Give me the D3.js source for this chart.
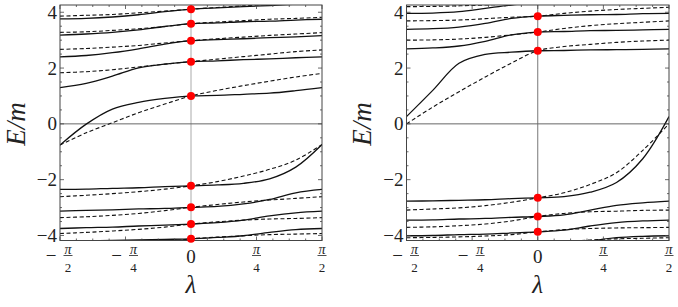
<!DOCTYPE html>
<html><head><meta charset="utf-8">
<script src="https://cdn.jsdelivr.net/npm/d3@7"></script>
<style>body{margin:0;background:#fff}svg{display:block}</style>
</head><body>
<script>
// lambda grid (in units of pi)
const lam = [-0.5,-0.4,-0.3,-0.2,-0.1,0,0.1,0.2,0.3,0.4,0.5];
const yTicks = [-4,-2,0,2,4];
const xTicks = [-0.5,-0.25,0,0.25,0.5];
const xTickDen = {"-0.5":"2","-0.25":"4","0.25":"4","0.5":"2"};

// left panel curves (E/m)
const leftSolid = [
  [-0.76,-0.01,0.53,0.77,0.91,1.00,1.02,1.06,1.10,1.19,1.30],
  [1.30,1.45,1.71,2.01,2.14,2.23,2.26,2.30,2.33,2.37,2.40],
  [2.40,2.45,2.55,2.69,2.86,2.98,3.02,3.05,3.09,3.12,3.16],
  [3.18,3.22,3.28,3.37,3.49,3.59,3.62,3.66,3.68,3.72,3.75],
  [3.76,3.78,3.83,3.91,4.02,4.11,4.16,4.20,4.24,4.29,4.33],
  [-2.35,-2.34,-2.31,-2.29,-2.25,-2.22,-2.19,-2.13,-1.97,-1.55,-0.74],
  [-3.13,-3.10,-3.08,-3.05,-3.03,-2.99,-2.96,-2.87,-2.71,-2.47,-2.35],
  [-3.75,-3.72,-3.70,-3.66,-3.63,-3.59,-3.54,-3.45,-3.30,-3.19,-3.13],
  [-4.20,-4.19,-4.18,-4.16,-4.14,-4.12,-4.07,-4.01,-3.89,-3.79,-3.75]
];
const leftDashed = [
  [-0.76,-0.32,0.04,0.40,0.71,1.00,1.20,1.37,1.53,1.68,1.81],
  [1.83,1.87,1.94,2.04,2.14,2.23,2.32,2.41,2.50,2.59,2.65],
  [2.67,2.70,2.75,2.81,2.90,2.98,3.05,3.11,3.17,3.22,3.27],
  [3.28,3.30,3.35,3.41,3.49,3.59,3.65,3.70,3.75,3.78,3.82],
  [3.86,3.89,3.92,3.98,4.04,4.11,4.17,4.23,4.28,4.33,4.38],
  [-2.61,-2.56,-2.50,-2.43,-2.34,-2.22,-2.07,-1.87,-1.63,-1.30,-0.74],
  [-3.36,-3.33,-3.28,-3.21,-3.11,-2.99,-2.89,-2.80,-2.73,-2.67,-2.61],
  [-3.93,-3.89,-3.84,-3.78,-3.70,-3.59,-3.51,-3.45,-3.41,-3.39,-3.36],
  [-4.50,-4.45,-4.40,-4.33,-4.24,-4.12,-4.06,-4.01,-3.97,-3.95,-3.93]
];
const leftDots = [4.11,3.59,2.98,2.23,1.00,-2.22,-2.99,-3.59,-4.12];

// right panel curves (E/m)
const rightSolid = [
  [0.26,1.20,2.17,2.49,2.57,2.62,2.63,2.65,2.66,2.67,2.69],
  [2.69,2.72,2.79,2.96,3.19,3.29,3.31,3.34,3.35,3.37,3.39],
  [3.39,3.41,3.47,3.60,3.78,3.86,3.89,3.91,3.92,3.95,3.96],
  [3.96,3.97,4.02,4.14,4.26,4.36,4.42,4.46,4.48,4.50,4.52],
  [-2.77,-2.76,-2.74,-2.72,-2.68,-2.65,-2.61,-2.45,-2.10,-1.25,0.26],
  [-3.45,-3.44,-3.41,-3.39,-3.35,-3.32,-3.26,-3.09,-2.92,-2.83,-2.77],
  [-4.01,-4.00,-3.97,-3.95,-3.91,-3.87,-3.81,-3.66,-3.54,-3.48,-3.45],
  [-4.60,-4.58,-4.56,-4.52,-4.49,-4.45,-4.38,-4.20,-4.08,-4.03,-4.01]
];
const rightDashed = [
  [0.00,0.60,1.15,1.68,2.18,2.62,2.77,2.85,2.92,2.97,3.00],
  [3.00,3.01,3.04,3.10,3.19,3.29,3.42,3.52,3.59,3.64,3.69],
  [3.69,3.70,3.72,3.77,3.82,3.86,3.96,4.04,4.10,4.14,4.18],
  [4.20,4.21,4.23,4.26,4.30,4.35,4.42,4.48,4.52,4.55,4.58],
  [-3.09,-3.05,-3.01,-2.93,-2.81,-2.65,-2.47,-2.17,-1.75,-0.95,0.00],
  [-3.71,-3.69,-3.65,-3.59,-3.48,-3.32,-3.21,-3.15,-3.13,-3.10,-3.09],
  [-4.08,-4.07,-4.05,-4.02,-3.97,-3.87,-3.79,-3.75,-3.73,-3.72,-3.71],
  [-4.70,-4.65,-4.60,-4.52,-4.42,-4.30,-4.22,-4.16,-4.12,-4.10,-4.08]
];
const rightDots = [3.86,3.29,2.62,-2.65,-3.32,-3.87];

const W = 678, H = 307;
const svg = d3.select("body").append("svg").attr("width",W).attr("height",H);
const y = d3.scaleLinear().domain([-4.18,4.26]).range([240.5,5]);
const serif = "'Liberation Serif','DejaVu Serif',serif";

function panel(id, x0, x1, solids, dashes, dots, labelX) {
  const x = d3.scaleLinear().domain([-0.5,0.5]).range([x0,x1]);
  const g = svg.append("g");
  g.append("clipPath").attr("id","clip"+id).append("rect")
    .attr("x",x0).attr("y",y.range()[1]).attr("width",x1-x0).attr("height",y.range()[0]-y.range()[1]);
  // zero lines
  g.append("line").attr("x1",x(0)).attr("x2",x(0)).attr("y1",y.range()[1]).attr("y2",y.range()[0])
    .attr("stroke", id===0 ? "#aaa" : "#777").attr("stroke-width",1);
  g.append("line").attr("x1",x0).attr("x2",x1).attr("y1",y(0)).attr("y2",y(0))
    .attr("stroke","#666").attr("stroke-width",1);
  const line = d3.line().x((d,i)=>x(lam[i])).y(d=>y(d)).curve(d3.curveCatmullRom.alpha(0.5));
  const cg = g.append("g").attr("clip-path","url(#clip"+id+")");
  cg.selectAll(".dash").data(dashes).join("path").attr("d",line)
    .attr("fill","none").attr("stroke","#111").attr("stroke-width",1.1).attr("stroke-dasharray","4,2.5");
  cg.selectAll(".sol").data(solids).join("path").attr("d",line)
    .attr("fill","none").attr("stroke","#111").attr("stroke-width",1.3);
  // frame
  g.append("rect").attr("x",x0).attr("y",y.range()[1]).attr("width",x1-x0).attr("height",y.range()[0]-y.range()[1])
    .attr("fill","none").attr("stroke","#444").attr("stroke-width",1);
  // ticks
  const top = y.range()[1], bot = y.range()[0];
  const tk = g.append("g").attr("stroke","#444").attr("stroke-width",0.8);
  d3.range(-4,4.01,0.5).forEach(v=>{
    const L = (Math.abs(v%2)<1e-9)?4:2;
    tk.append("line").attr("x1",x0).attr("x2",x0+L).attr("y1",y(v)).attr("y2",y(v));
    tk.append("line").attr("x1",x1).attr("x2",x1-L).attr("y1",y(v)).attr("y2",y(v));
  });
  d3.range(-0.5,0.501,0.0625).forEach(v=>{
    const L = (Math.abs((v*4)%1)<1e-9)?4:2;
    tk.append("line").attr("x1",x(v)).attr("x2",x(v)).attr("y1",bot).attr("y2",bot-L);
    tk.append("line").attr("x1",x(v)).attr("x2",x(v)).attr("y1",top).attr("y2",top+L);
  });
  // y tick labels
  g.selectAll(".yl").data(yTicks).join("text")
    .attr("x",x0-3).attr("y",d=>y(d)+6.5).attr("text-anchor","end")
    .attr("font-family",serif).attr("font-size",19).attr("fill","#222")
    .text(d=>d<0 ? "\u2212"+Math.abs(d) : d);
  // x tick labels
  xTicks.forEach(v=>{
    const cx = x(v);
    if (v===0) {
      g.append("text").attr("x",cx).attr("y",263).attr("text-anchor","middle")
        .attr("font-family",serif).attr("font-size",19).attr("fill","#222").text("0");
      return;
    }
    const fc = v<0 ? cx+8 : cx;
    if (v<0) g.append("text").attr("x",cx-9).attr("y",261.5).attr("text-anchor","middle")
      .attr("font-family",serif).attr("font-size",19).attr("fill","#222").text("\u2212");
    g.append("text").attr("x",fc).attr("y",254).attr("text-anchor","middle")
      .attr("font-family",serif).attr("font-style","italic").attr("font-size",14).attr("fill","#222").text("\u03c0");
    g.append("line").attr("x1",fc-4.5).attr("x2",fc+4.5).attr("y1",255.5).attr("y2",255.5)
      .attr("stroke","#222").attr("stroke-width",0.8);
    g.append("text").attr("x",fc).attr("y",272).attr("text-anchor","middle")
      .attr("font-family",serif).attr("font-size",13).attr("fill","#222").text(xTickDen[String(v)]);
  });
  // dots
  g.selectAll(".dot").data(dots).join("circle")
    .attr("cx",x(0)).attr("cy",d=>y(d)).attr("r",4).attr("fill","#ff0000");
  // axis labels
  g.append("text").attr("x",x(0)).attr("y",293).attr("text-anchor","middle")
    .attr("font-family",serif).attr("font-style","italic").attr("font-size",25).attr("fill","#222").text("\u03bb");
  g.append("text").attr("transform",`translate(${labelX},124) rotate(-90)`).attr("text-anchor","middle")
    .attr("font-family",serif).attr("font-style","italic").attr("font-size",27).attr("fill","#222").text("E/m");
}
panel(0, 60, 322, leftSolid, leftDashed, leftDots, 25);
panel(1, 406.5, 669, rightSolid, rightDashed, rightDots, 371);
</script>
</body></html>
